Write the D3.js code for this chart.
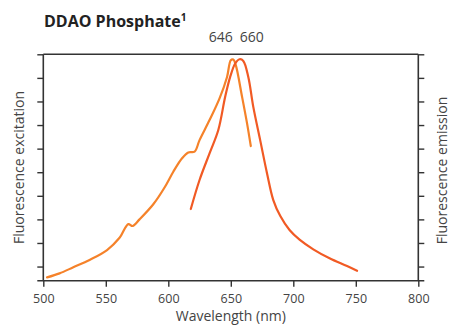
<!DOCTYPE html>
<html>
<head>
<meta charset="utf-8">
<script src="https://cdn.jsdelivr.net/npm/d3@7"></script>
<style>
  html, body { margin: 0; padding: 0; background: #fff; }
  svg { display: block; font-family: "Open Sans", "Noto Sans", sans-serif; }
</style>
</head>
<body>
<svg id="chart" width="450" height="325"></svg>
<script>
// ---- data ----
const xTicks = [500, 550, 600, 650, 700, 750, 800];
const yTicks = [0.6, 1.6, 2.6, 3.6, 4.6, 5.6, 6.6, 7.6, 8.6, 9.6];
const peakLabels = ["646", "660"];

const excitationNm  = [503, 513, 524, 537, 551, 561, 568, 571.5, 577, 588, 597, 604, 611, 616, 621, 625, 633, 641, 647, 650, 652, 654, 659, 663, 666];
const excitationVal = [0.14, 0.31, 0.57, 0.88, 1.30, 1.82, 2.40, 2.32, 2.60, 3.24, 3.95, 4.62, 5.19, 5.44, 5.47, 5.96, 6.81, 7.73, 8.64, 9.35, 9.38, 9.14, 7.80, 6.67, 5.71];

const emissionNm  = [618, 625, 633, 640, 645.5, 649.5, 653.5, 657, 660, 664, 668, 673.5, 679, 684, 689.5, 697, 705, 716, 729, 743, 751];
const emissionVal = [3.04, 4.27, 5.40, 6.39, 7.80, 8.64, 9.21, 9.39, 9.32, 8.64, 7.37, 5.96, 4.55, 3.42, 2.75, 2.15, 1.74, 1.33, 0.95, 0.62, 0.42];

// ---- layout ----
const L = 43.3, R = 418.3, T = 54.3, B = 280.7;
const svg = d3.select("#chart");
const x = d3.scaleLinear().domain([500, 800]).range([L, R]);
const y = d3.scaleLinear().domain([0, 9.6]).range([B, T]);

const axisColor = "#333";
const textColor = "#444";

// axes
const gl = svg.append("g").attr("transform", `translate(${L},0)`)
  .call(d3.axisLeft(y).tickValues(yTicks).tickSize(6).tickSizeOuter(0).tickFormat(""));
const gr = svg.append("g").attr("transform", `translate(${R},0)`)
  .call(d3.axisRight(y).tickValues(yTicks).tickSize(6).tickSizeOuter(0).tickFormat(""));
const gb = svg.append("g").attr("transform", `translate(0,${B})`)
  .call(d3.axisBottom(x).tickValues(xTicks).tickSize(6).tickSizeOuter(0).tickPadding(7));
[gl, gr, gb].forEach(g => {
  g.select(".domain").remove();
  g.selectAll(".tick line").attr("stroke", axisColor).attr("stroke-width", 1.4);
});
gb.selectAll(".tick text").attr("fill", textColor).attr("font-size", 12.5)
  .attr("font-family", '"Open Sans", sans-serif');

// frame
svg.append("line").attr("x1", L).attr("x2", L).attr("y1", T).attr("y2", B)
  .attr("stroke", axisColor).attr("stroke-width", 1.6);
svg.append("line").attr("x1", R).attr("x2", R).attr("y1", T).attr("y2", B)
  .attr("stroke", axisColor).attr("stroke-width", 1.6);
svg.append("line").attr("x1", L - 6).attr("x2", R + 6).attr("y1", B).attr("y2", B)
  .attr("stroke", axisColor).attr("stroke-width", 1.6);
svg.append("line").attr("x1", L).attr("x2", R).attr("y1", T).attr("y2", T)
  .attr("stroke", axisColor).attr("stroke-width", 1.6);

// curves
const line = d3.line().x(d => x(d[0])).y(d => y(d[1])).curve(d3.curveCatmullRom.alpha(0.5));
svg.append("path").datum(excitationNm.map((n, i) => [n, excitationVal[i]]))
  .attr("d", line).attr("fill", "none").attr("stroke", "#F5822A").attr("stroke-width", 2.2)
  .attr("stroke-linejoin", "round").attr("stroke-linecap", "round");
svg.append("path").datum(emissionNm.map((n, i) => [n, emissionVal[i]]))
  .attr("d", line).attr("fill", "none").attr("stroke", "#F15A24").attr("stroke-width", 2.2)
  .attr("stroke-linejoin", "round").attr("stroke-linecap", "round");

// title
const title = svg.append("text").attr("x", 44).attr("y", 27)
  .attr("font-size", 16).attr("font-weight", "bold").attr("fill", "#222");
title.append("tspan").text("DDAO Phosphate");
title.append("tspan").text("1").attr("font-size", 10).attr("dy", -6);

// peak labels
svg.append("text").attr("x", 220.7).attr("y", 41.7).attr("text-anchor", "middle")
  .attr("font-size", 14).attr("fill", textColor).text(peakLabels[0]);
svg.append("text").attr("x", 251.7).attr("y", 41.7).attr("text-anchor", "middle")
  .attr("font-size", 14).attr("fill", textColor).text(peakLabels[1]);

// axis titles
svg.append("text").attr("transform", `translate(24,${(T + B) / 2}) rotate(-90)`)
  .attr("text-anchor", "middle").attr("font-size", 14).attr("fill", textColor)
  .text("Fluorescence excitation");
svg.append("text").attr("transform", `translate(447,${(T + B) / 2 + 3}) rotate(-90)`)
  .attr("text-anchor", "middle").attr("font-size", 14).attr("fill", textColor)
  .text("Fluorescence emission");
svg.append("text").attr("x", (L + R) / 2).attr("y", 321).attr("text-anchor", "middle")
  .attr("font-size", 14).attr("fill", textColor).text("Wavelength (nm)");
</script>
</body>
</html>
